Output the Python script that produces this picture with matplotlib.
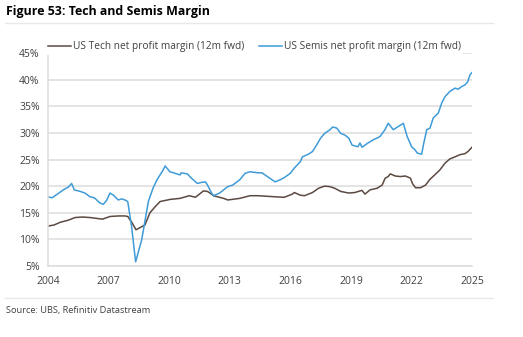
import matplotlib.pyplot as plt

plt.rcParams['font.family'] = ['Open Sans', 'DejaVu Sans']

# US Semis net profit margin (12m fwd), %
semis_x = [2004.0, 2004.2, 2004.5, 2004.8, 2005.0, 2005.17, 2005.3, 2005.6, 2005.83, 2006.08,
           2006.3, 2006.58, 2006.74, 2006.9, 2007.07, 2007.24, 2007.48, 2007.65, 2007.81, 2007.95,
           2008.14, 2008.34, 2008.64, 2008.97, 2009.2, 2009.4, 2009.7, 2009.8, 2010.04, 2010.3,
           2010.54, 2010.6, 2010.9, 2011.1, 2011.4, 2011.6, 2011.8, 2011.9, 2012.1, 2012.2,
           2012.5, 2012.9, 2013.15, 2013.5, 2013.76, 2014.0, 2014.4, 2014.6, 2014.9, 2015.25,
           2015.5, 2015.7, 2016.0, 2016.2, 2016.5, 2016.6, 2016.9, 2017.1, 2017.3, 2017.5,
           2017.7, 2017.97, 2018.1, 2018.3, 2018.5, 2018.7, 2018.9, 2019.06, 2019.35, 2019.45,
           2019.55, 2019.85, 2020.11, 2020.44, 2020.69, 2020.85, 2021.1, 2021.35, 2021.6, 2021.78,
           2022.01, 2022.18, 2022.29, 2022.51, 2022.59, 2022.76, 2022.92, 2023.08, 2023.33, 2023.5,
           2023.66, 2023.91, 2024.16, 2024.32, 2024.49, 2024.65, 2024.79, 2024.9, 2024.99]
semis_y = [18.0, 17.8, 18.6, 19.4, 19.8, 20.5, 19.3, 19.0, 18.7, 18.0,
           17.8, 16.8, 16.6, 17.3, 18.7, 18.3, 17.4, 17.6, 17.4, 17.1,
           12.4, 5.8, 9.9, 17.1, 19.6, 21.2, 23.0, 23.8, 22.7, 22.4,
           22.1, 22.5, 22.3, 21.5, 20.5, 20.7, 20.8, 20.2, 18.7, 18.2,
           18.7, 19.9, 20.2, 21.2, 22.4, 22.7, 22.5, 22.5, 21.7, 20.8,
           21.2, 21.6, 22.4, 23.4, 24.6, 25.5, 26.0, 26.5, 27.7, 29.0,
           29.9, 30.6, 31.1, 30.9, 29.9, 29.6, 29.0, 27.7, 27.4, 28.1,
           27.3, 28.1, 28.7, 29.3, 30.6, 31.8, 30.6, 31.2, 31.8, 29.4,
           27.4, 26.8, 26.2, 26.0, 27.7, 30.6, 30.9, 32.8, 33.7, 35.6,
           36.8, 37.8, 38.4, 38.2, 38.7, 39.0, 39.6, 40.9, 41.3]

# US Tech net profit margin (12m fwd), %
tech_x = [2004.0, 2004.3, 2004.6, 2005.0, 2005.34, 2005.7, 2006.08, 2006.7, 2007.07, 2007.5,
          2007.8, 2007.95, 2008.15, 2008.36, 2008.8, 2009.05, 2009.3, 2009.55, 2010.04, 2010.54,
          2011.0, 2011.3, 2011.5, 2011.7, 2011.9, 2012.1, 2012.2, 2012.7, 2012.9, 2013.5,
          2014.0, 2014.4, 2015.25, 2015.7, 2016.1, 2016.2, 2016.5, 2016.7, 2017.1, 2017.4,
          2017.7, 2017.97, 2018.2, 2018.5, 2018.9, 2019.2, 2019.55, 2019.7, 2019.95, 2020.3,
          2020.55, 2020.7, 2020.85, 2020.95, 2021.2, 2021.45, 2021.7, 2021.95, 2022.05, 2022.2,
          2022.45, 2022.7, 2022.9, 2023.15, 2023.4, 2023.66, 2023.9, 2024.16, 2024.4, 2024.65,
          2024.8, 2025.0]
tech_y = [12.5, 12.7, 13.2, 13.6, 14.1, 14.2, 14.1, 13.8, 14.3, 14.4,
          14.4, 14.3, 13.2, 11.8, 12.7, 15.0, 16.1, 17.1, 17.5, 17.7,
          18.2, 17.9, 18.5, 19.1, 19.0, 18.5, 18.2, 17.7, 17.4, 17.7,
          18.2, 18.2, 18.0, 17.9, 18.5, 18.8, 18.3, 18.2, 18.8, 19.6,
          20.0, 19.9, 19.6, 19.0, 18.7, 18.8, 19.2, 18.5, 19.3, 19.6,
          20.2, 21.5, 21.8, 22.3, 21.9, 21.8, 21.9, 21.5, 20.5, 19.7,
          19.7, 20.2, 21.2, 22.1, 23.0, 24.3, 25.1, 25.5, 25.9, 26.1,
          26.5, 27.3]

year_ticks = [2004, 2007, 2010, 2013, 2016, 2019, 2022, 2025]
pct_ticks = [5, 10, 15, 20, 25, 30, 35, 40, 45]

tech_color = '#5b4a42'
semis_color = '#3f9bd8'
grid_color = '#dcdcdc'
text_color = '#404040'

fig = plt.figure(figsize=(5.23, 3.37), dpi=100)
ax = fig.add_axes([48 / 523, 1 - 266 / 337, 424 / 523, 213 / 337])

ax.plot(tech_x, tech_y, color=tech_color, lw=1.1, label='US Tech net profit margin (12m fwd)')
ax.plot(semis_x, semis_y, color=semis_color, lw=1.1, label='US Semis net profit margin (12m fwd)')

ax.set_xlim(2004, 2025)
ax.set_ylim(5, 45)
ax.set_xticks(year_ticks)
ax.set_xticklabels([str(y) for y in year_ticks])
ax.set_yticks(pct_ticks)
ax.set_yticklabels([f'{p}%' for p in pct_ticks])
ax.tick_params(length=0, labelsize=7.5, colors=text_color, pad=6)
ax.tick_params(axis='x', pad=7)

ax.grid(axis='y', color=grid_color, lw=1.1)
ax.set_axisbelow(True)
for s in ['top', 'right']:
    ax.spines[s].set_visible(False)
ax.spines['left'].set_color(grid_color)
ax.spines['bottom'].set_color(grid_color)
ax.spines['left'].set_linewidth(1.1)
ax.spines['bottom'].set_linewidth(1.1)

leg = ax.legend(loc='center left', bbox_to_anchor=(-0.005, 1.03), ncol=2, fontsize=7.3,
                frameon=True, facecolor='white', edgecolor='none', framealpha=1,
                handlelength=2.2, handletextpad=0.2, columnspacing=1.5,
                borderpad=0.25, borderaxespad=0)
for t in leg.get_texts():
    t.set_color(text_color)

fig.text(6 / 523, 1 - 11 / 337, 'Figure 53: Tech and Semis Margin', fontsize=8.9,
         fontweight='bold', color='#000000', va='center', ha='left')
fig.add_artist(plt.Line2D([5 / 523, 493 / 523], [1 - 23 / 337] * 2, color='#e8e8e8', lw=1))
fig.add_artist(plt.Line2D([5 / 523, 493 / 523], [1 - 298 / 337] * 2, color='#e8e8e8', lw=1))
fig.text(6 / 523, 1 - 310 / 337, 'Source: UBS, Refinitiv Datastream', fontsize=6.7,
         color=text_color, va='center', ha='left')

fig.savefig('out.png', dpi=100)
